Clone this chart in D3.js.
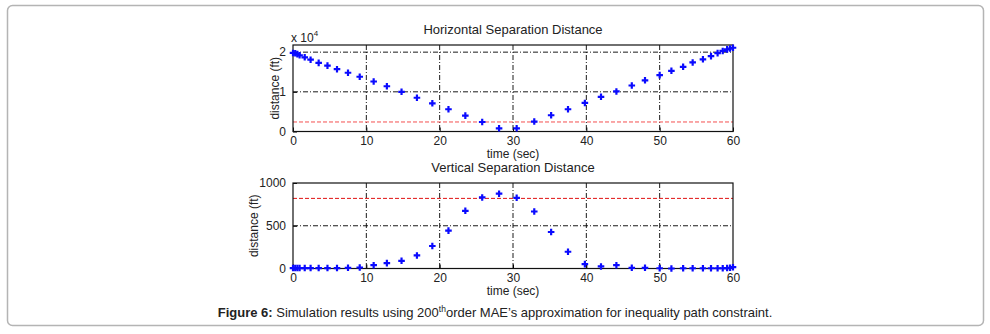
<!DOCTYPE html>
<html>
<head>
<meta charset="utf-8">
<script src="https://cdn.jsdelivr.net/npm/d3@7"></script>
<style>
  body { margin: 0; background: #fff; }
  text { font-family: "Liberation Sans", Arial, sans-serif; fill: #222; }
</style>
</head>
<body>
<div id="chart"></div>
<script>
// sample times (sec), shared by both plots
var time = [0, 0.3, 0.6, 0.9, 1.6, 2.4, 3.5, 4.7, 6.0, 7.5, 9.1, 11.0, 12.8, 14.8, 16.9, 19.0,
  21.2, 23.5, 25.8, 28.1, 30.5, 32.9, 35.2, 37.5, 39.8, 42.0, 44.1, 46.2, 48.0, 50.0,
  51.6, 53.2, 54.5, 55.9, 57.0, 57.9, 58.6, 59.2, 59.6, 60.0];

// horizontal separation (ft)
var horizDist = [19800, 19700, 19500, 19200, 18700, 18100, 17300, 16600, 15700, 14800,
  13800, 12600, 11400, 10000, 8500, 7100, 5600, 4000, 2400, 800,
  800, 2500, 4100, 5600, 7200, 8750, 10100, 11600, 12900, 14200,
  15300, 16300, 17400, 18200, 19000, 19750, 20300, 20700, 20900, 21100];

// vertical separation (ft)
var vertDist = [5, 5, 5, 5, 5, 5, 5, 5, 5, 8, 12, 39, 63, 90, 153, 263, 443, 675, 831, 875,
  827, 667, 427, 196, 51, 24, 39, 8, 8, 3, 0, 3, 3, 3, 3, 3, 3, 5, 8, 15];

var horizLimit = 2400;
var vertLimit = 820;

var xTicks = [0, 10, 20, 30, 40, 50, 60];
var horizTicks = [0, 10000, 20000];
var vertTicks = [0, 500, 1000];

var W = 990, H = 334;

var svg = d3.select("#chart")
  .append("svg")
    .attr("width", W)
    .attr("height", H);

// outer frame
svg.append("rect")
  .attr("x", 7.5).attr("y", 5.5)
  .attr("width", 976).attr("height", 320)
  .attr("rx", 5)
  .attr("fill", "none")
  .attr("stroke", "#b4b4b4")
  .attr("stroke-width", 1.5);

var x = d3.scaleLinear().domain([0, 60]).range([293, 733]);

function drawPanel(opts) {
  var y = d3.scaleLinear().domain(opts.domain).range([opts.bottom, opts.top]);
  var g = svg.append("g");

  // grid
  g.selectAll(".vgrid")
    .data(xTicks.slice(1, -1))
    .enter().append("line")
      .attr("x1", function(d) { return x(d); })
      .attr("x2", function(d) { return x(d); })
      .attr("y1", opts.top).attr("y2", opts.bottom)
      .attr("stroke", "#000").attr("stroke-width", 0.9)
      .attr("stroke-dasharray", "5,2,1,2");
  g.selectAll(".hgrid")
    .data(opts.ticks.filter(function(d) { return d > 0 && y(d) > opts.top + 1; }))
    .enter().append("line")
      .attr("x1", x(0)).attr("x2", x(60))
      .attr("y1", function(d) { return y(d); })
      .attr("y2", function(d) { return y(d); })
      .attr("stroke", "#000").attr("stroke-width", 0.9)
      .attr("stroke-dasharray", "5,2,1,2");

  // constraint line
  g.append("line")
    .attr("x1", x(0)).attr("x2", x(60))
    .attr("y1", y(opts.limit)).attr("y2", y(opts.limit))
    .attr("stroke", opts.limitColor).attr("stroke-width", 1)
    .attr("stroke-dasharray", "4,2");

  // axes (ticks inward)
  g.append("g")
    .attr("transform", "translate(0," + opts.bottom + ")")
    .call(d3.axisBottom(x).tickValues(xTicks).tickSizeInner(-4).tickSizeOuter(0).tickPadding(5))
    .call(function(a) { a.select(".domain").remove(); })
    .selectAll("text").style("font-size", "12px").attr("fill", "#222");
  g.append("g")
    .attr("transform", "translate(" + x(0) + ",0)")
    .call(d3.axisLeft(y).tickValues(opts.ticks).tickFormat(opts.fmt).tickSizeInner(-4).tickSizeOuter(0).tickPadding(7))
    .call(function(a) { a.select(".domain").remove(); })
    .selectAll("text").style("font-size", "12px").attr("fill", "#222");

  g.append("rect")
    .attr("x", x(0)).attr("y", opts.top)
    .attr("width", x(60) - x(0)).attr("height", opts.bottom - opts.top)
    .attr("fill", "none").attr("stroke", "#111").attr("stroke-width", 1.2);

  // points
  g.selectAll(".pt")
    .data(time)
    .enter().append("path")
      .attr("d", d3.symbol(d3.symbolCross).size(24))
      .attr("transform", function(d, i) {
        return "translate(" + x(d) + "," + y(opts.values[i]) + ")";
      })
      .attr("fill", "#0a0aff");

  // labels
  g.append("text")
    .attr("x", 513).attr("y", opts.top - 11)
    .attr("text-anchor", "middle").style("font-size", "13px")
    .text(opts.title);
  g.append("text")
    .attr("x", 513).attr("y", opts.bottom + 26)
    .attr("text-anchor", "middle").style("font-size", "12px")
    .text("time (sec)");
  g.append("text")
    .attr("transform", "translate(" + opts.ylabelX + "," + ((opts.top + opts.bottom) / 2) + ") rotate(-90)")
    .attr("text-anchor", "middle").style("font-size", "12px")
    .text("distance (ft)");
  return g;
}

var top1 = drawPanel({
  top: 45, bottom: 131.5, domain: [0, 21800],
  values: horizDist, ticks: horizTicks, limit: horizLimit,
  limitColor: "#f45050",
  fmt: function(d) { return d / 10000; },
  title: "Horizontal Separation Distance", ylabelX: 279
});

// exponent label
var ex = top1.append("text").attr("x", 291).attr("y", 42).style("font-size", "12px");
ex.append("tspan").text("x 10");
ex.append("tspan").attr("dy", -6).style("font-size", "8px").text("4");

drawPanel({
  top: 183, bottom: 268.5, domain: [0, 1000],
  values: vertDist, ticks: vertTicks, limit: vertLimit,
  limitColor: "#e01010",
  fmt: d3.format("d"),
  title: "Vertical Separation Distance", ylabelX: 258
});

// caption
var cap = svg.append("text")
  .attr("x", 495).attr("y", 317)
  .attr("text-anchor", "middle")
  .style("font-size", "13px");
cap.append("tspan").style("font-weight", "bold").text("Figure 6:");
cap.append("tspan").text(" Simulation results using 200");
cap.append("tspan").attr("dy", -5).style("font-size", "8.5px").text("th");
cap.append("tspan").attr("dy", 5).text("order MAE\u2019s approximation for inequality path constraint.");
</script>
</body>
</html>
